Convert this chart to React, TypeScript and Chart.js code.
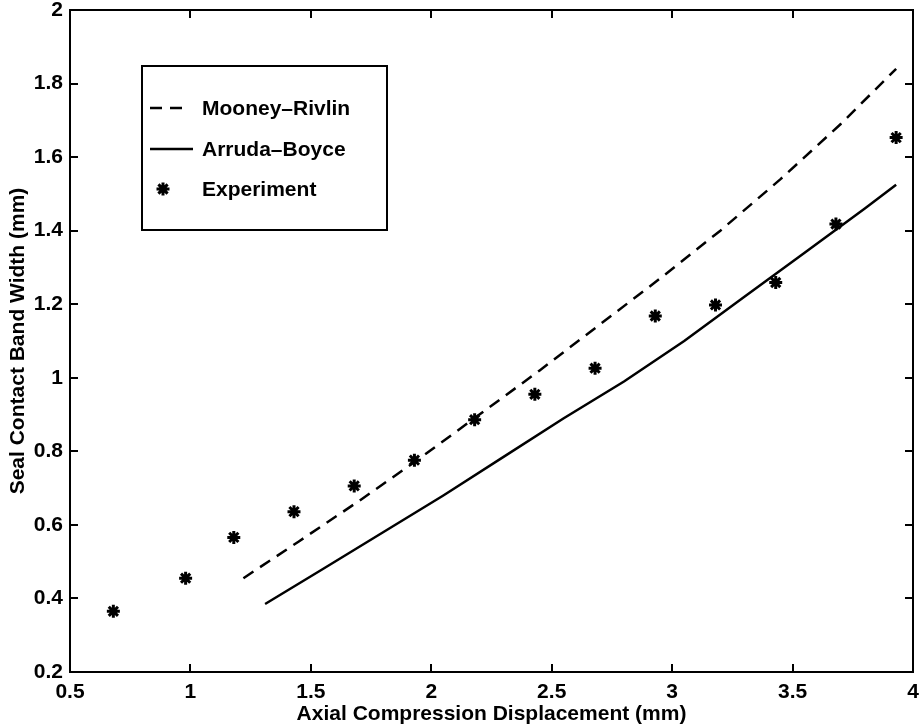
import React, { useEffect, useRef } from "react";
import { Chart, registerables } from "chart.js";

Chart.register(...registerables);

// ---- data ----
const expX = [0.68, 0.98, 1.18, 1.43, 1.68, 1.93, 2.18, 2.43, 2.68, 2.93, 3.18, 3.43, 3.68, 3.93];
const expY = [0.365, 0.455, 0.566, 0.636, 0.706, 0.776, 0.886, 0.955, 1.026, 1.168, 1.198, 1.259, 1.418, 1.653];

const mooneyX = [1.22, 1.45, 1.7, 1.95, 2.2, 2.45, 2.7, 2.95, 3.2, 3.45, 3.7, 3.93];
const mooneyY = [0.455, 0.555, 0.665, 0.78, 0.9, 1.02, 1.145, 1.27, 1.4, 1.54, 1.69, 1.84];

const arrudaX = [1.31, 1.55, 1.8, 2.05, 2.3, 2.55, 2.8, 3.05, 3.3, 3.55, 3.8, 3.93];
const arrudaY = [0.385, 0.48, 0.58, 0.68, 0.785, 0.89, 0.99, 1.1, 1.22, 1.34, 1.46, 1.525];

const xTicks = [0.5, 1, 1.5, 2, 2.5, 3, 3.5, 4];
const yTicks = [0.2, 0.4, 0.6, 0.8, 1, 1.2, 1.4, 1.6, 1.8, 2];

const seriesLabels = ["Mooney\u2013Rivlin", "Arruda\u2013Boyce", "Experiment"];
const xTitle = "Axial Compression Displacement (mm)";
const yTitle = "Seal Contact Band Width (mm)";

const FONT = "'Liberation Sans', Arial, Helvetica, sans-serif";

const framePlugin = {
  id: "matlabFrame",
  afterDraw(chart: any) {
    const { ctx, chartArea } = chart;
    const { left, right, top, bottom } = chartArea;
    const xs = chart.scales.x;
    const ys = chart.scales.y;
    ctx.save();
    ctx.strokeStyle = "#000";
    ctx.lineWidth = 2;
    ctx.setLineDash([]);
    ctx.strokeRect(left, top, right - left, bottom - top);
    const L = 8;
    ctx.beginPath();
    xs.ticks.forEach((t: any) => {
      const px = Math.round(xs.getPixelForValue(t.value));
      ctx.moveTo(px, bottom);
      ctx.lineTo(px, bottom - L);
      ctx.moveTo(px, top);
      ctx.lineTo(px, top + L);
    });
    ys.ticks.forEach((t: any) => {
      const py = Math.round(ys.getPixelForValue(t.value));
      ctx.moveTo(left, py);
      ctx.lineTo(left + L, py);
      ctx.moveTo(right, py);
      ctx.lineTo(right - L, py);
    });
    ctx.stroke();

    // legend box
    const bx = 142, by = 66, bw = 245, bh = 164;
    ctx.fillStyle = "#fff";
    ctx.fillRect(bx, by, bw, bh);
    ctx.lineWidth = 2;
    ctx.strokeRect(bx, by, bw, bh);
    const rows = [108, 149, 189];
    const ds = chart.data.datasets;
    ctx.font = `bold 21px ${FONT}`;
    ctx.fillStyle = "#000";
    ctx.textBaseline = "middle";
    ctx.textAlign = "left";
    rows.forEach((ry, i) => {
      const d = ds[i];
      if (i < 2) {
        ctx.beginPath();
        ctx.lineWidth = d.borderWidth;
        ctx.setLineDash(d.borderDash || []);
        ctx.moveTo(150, ry);
        ctx.lineTo(i === 0 ? 185 : 193, ry);
        ctx.stroke();
        ctx.setLineDash([]);
      } else {
        const cx = 163, r = d.pointRadius;
        ctx.lineWidth = d.borderWidth;
        ctx.beginPath();
        for (let k = 0; k < 4; k++) {
          const a = (k * Math.PI) / 4;
          ctx.moveTo(cx - r * Math.cos(a), ry - r * Math.sin(a));
          ctx.lineTo(cx + r * Math.cos(a), ry + r * Math.sin(a));
        }
        ctx.stroke();
      }
      ctx.fillText(d.label, 202, ry + 1);
    });
    ctx.restore();
  },
};

export default function App() {
  const ref = useRef<HTMLCanvasElement | null>(null);
  useEffect(() => {
    document.body.style.margin = "0";
    const canvas = ref.current;
    if (!canvas) return;
    const chart = new Chart(canvas, {
      type: "scatter",
      data: {
        datasets: [
          {
            label: seriesLabels[0],
            data: mooneyX.map((x, i) => ({ x, y: mooneyY[i] })),
            showLine: true,
            borderColor: "#000",
            backgroundColor: "#000",
            borderWidth: 2.5,
            borderDash: [12, 8],
            pointRadius: 0,
            tension: 0,
          },
          {
            label: seriesLabels[1],
            data: arrudaX.map((x, i) => ({ x, y: arrudaY[i] })),
            showLine: true,
            borderColor: "#000",
            backgroundColor: "#000",
            borderWidth: 2.5,
            pointRadius: 0,
            tension: 0,
          },
          {
            label: seriesLabels[2],
            data: expX.map((x, i) => ({ x, y: expY[i] })),
            showLine: false,
            borderColor: "#000",
            backgroundColor: "#000",
            borderWidth: 3,
            pointStyle: "star",
            pointRadius: 6.5,
            pointHoverRadius: 6.5,
          },
        ] as any,
      },
      options: {
        animation: false,
        responsive: false,
        devicePixelRatio: 1,
        events: [],
        layout: { padding: { top: 10, right: 10, left: 0, bottom: 0 } },
        plugins: {
          legend: { display: false },
          tooltip: { enabled: false },
        },
        scales: {
          x: {
            type: "linear",
            min: 0.5,
            max: 4,
            afterBuildTicks: (s: any) => {
              s.ticks = xTicks.map((v) => ({ value: v }));
            },
            afterFit: (s: any) => {
              s.height = 55;
              s.paddingLeft = 0;
              s.paddingRight = 0;
            },
            grid: { display: false, drawTicks: false },
            border: { display: false },
            ticks: {
              color: "#000",
              padding: 8,
              maxRotation: 0,
              autoSkip: false,
              font: { family: FONT, size: 21, weight: "bold", lineHeight: 1.2 },
              callback: (v: any) => String(Number(Number(v).toFixed(2))),
            },
            title: {
              display: true,
              text: xTitle,
              color: "#000",
              padding: { top: 0, bottom: 0 },
              font: { family: FONT, size: 21, weight: "bold", lineHeight: 1.2 },
            },
          },
          y: {
            type: "linear",
            min: 0.2,
            max: 2,
            afterBuildTicks: (s: any) => {
              s.ticks = yTicks.map((v) => ({ value: v }));
            },
            afterFit: (s: any) => {
              s.width = 70;
              s.paddingTop = 0;
              s.paddingBottom = 0;
            },
            grid: { display: false, drawTicks: false },
            border: { display: false },
            ticks: {
              color: "#000",
              padding: 7,
              autoSkip: false,
              font: { family: FONT, size: 21, weight: "bold", lineHeight: 1.2 },
              callback: (v: any) => String(Number(Number(v).toFixed(2))),
            },
            title: {
              display: true,
              text: yTitle,
              color: "#000",
              padding: { top: 6, bottom: 0 },
              font: { family: FONT, size: 21, weight: "bold", lineHeight: 1.2 },
            },
          },
        },
      } as any,
      plugins: [framePlugin],
    });
    return () => chart.destroy();
  }, []);
  return (
    <canvas
      ref={ref}
      width={923}
      height={727}
      style={{ display: "block", width: 923, height: 727 }}
    />
  );
}
